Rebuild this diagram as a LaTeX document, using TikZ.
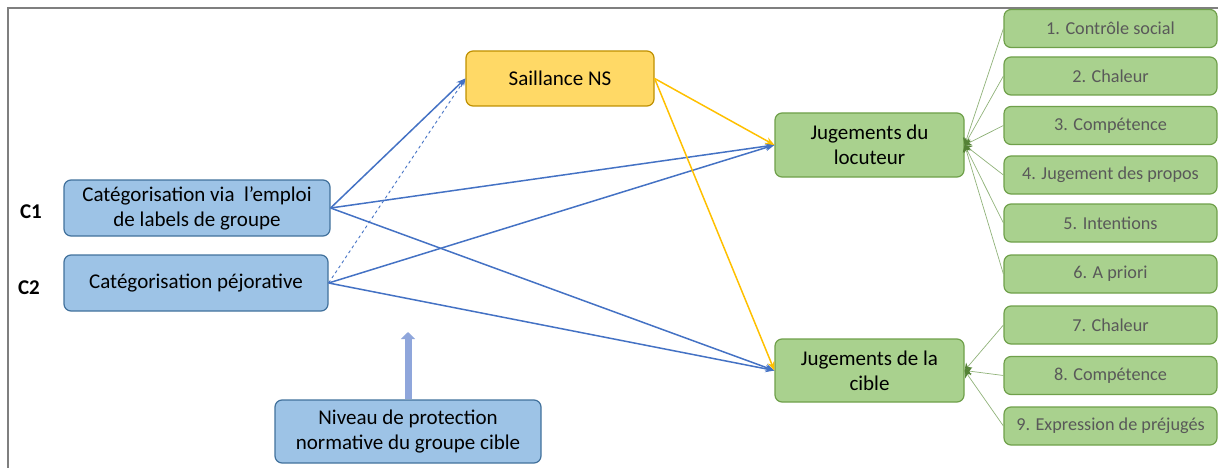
\documentclass[tikz,border=0pt]{standalone}
\usepackage{fontspec}
\setmainfont{Carlito}
\usepackage{tikz}
\usetikzlibrary{arrows.meta}
\definecolor{bluefill}{HTML}{9DC3E6}
\definecolor{blueline}{HTML}{41719C}
\definecolor{arrowblue}{HTML}{4472C4}
\definecolor{yellowfill}{HTML}{FFD966}
\definecolor{yellowline}{HTML}{BF9000}
\definecolor{arrowyellow}{HTML}{FFC000}
\definecolor{greenfill}{HTML}{A9D18E}
\definecolor{greenline}{HTML}{6FA04A}
\definecolor{darkgreen}{HTML}{548235}
\definecolor{subtext}{HTML}{595959}
\definecolor{framegray}{HTML}{7F7F7F}
\definecolor{thickblue}{HTML}{8FA6DB}
\tikzset{
    box/.style={rectangle, rounded corners=7pt, line width=1.2pt, align=center, inner sep=0pt, font=\fontsize{21}{25}\selectfont},
    bluebox/.style={box, fill=bluefill, draw=blueline},
    yellowbox/.style={box, fill=yellowfill, draw=yellowline},
    greenbox/.style={box, fill=greenfill, draw=greenline},
    subbox/.style={greenbox, minimum width=213pt, minimum height=38pt, text=subtext, font=\fontsize{18.2}{21}\selectfont},
    condlabel/.style={font=\fontsize{21}{24}\selectfont\bfseries},
    bluearrow/.style={draw=arrowblue, line width=1.5pt, -{Stealth[length=9pt, width=7pt]}},
    yellowarrow/.style={draw=arrowyellow, line width=1.5pt, -{Stealth[length=9pt, width=7pt]}},
    greenlink/.style={draw=greenfill!85!black, line width=0.7pt, -{Stealth[length=7pt, width=8pt, color=darkgreen]}}
}
\begin{document}
\begin{tikzpicture}[x=1pt, y=-1pt]
            \useasboundingbox (0,0) rectangle (1218,468);
            % frame
            \draw[framegray, line width=1.5pt] (8,468) -- (8,8) -- (1218,8);

            % conditions
            \node[bluebox, minimum width=266pt, minimum height=56pt] (cat1) at (197,208)
                {Catégorisation via~ l’emploi\\de labels de groupe};
            \node[bluebox, minimum width=264pt, minimum height=56pt] (cat2) at (196,283)
                {Catégorisation péjorative};
            \node[condlabel] (c1) at (31,212) {C1};
            \node[condlabel] (c2) at (29,288) {C2};

            % moderateur
            \node[bluebox, minimum width=266pt, minimum height=63pt] (niv) at (408,431.5)
                {Niveau de protection\\normative du groupe cible};
            \coordinate (nivtop) at (408,332);
            \draw[thickblue, line width=7pt, -{Triangle[length=7pt, width=14pt]}] (niv.north) -- (nivtop);

            % mediateur
            \node[yellowbox, minimum width=188pt, minimum height=55pt] (sal) at (560,78.5) {Saillance NS};

            % jugements
            \node[greenbox, minimum width=189pt, minimum height=64pt] (loc) at (869.5,145)
                {Jugements du\\locuteur};
            \node[greenbox, minimum width=189pt, minimum height=63pt] (cib) at (869.5,370.5)
                {Jugements de la\\cible};

            % mesures
            \foreach \i/\y/\txt in {1/28.5/1. Contrôle social, 2/76/2. Chaleur, 3/125.5/3. Compétence,
                    4/175/4. Jugement des propos, 5/223/5. Intentions, 6/274/6. A priori,
                    7/325/7. Chaleur, 8/375.5/8. Compétence, 9/426/9. Expression de préjugés}
                \node[subbox] (s\i) at (1110.5,\y) {\txt};
            \foreach \i in {1,...,6}
                \draw[greenlink] (s\i.west) -- (loc.east);
            \foreach \i in {7,8,9}
                \draw[greenlink] (s\i.west) -- (cib.east);

            % effets
            \draw[bluearrow] (cat1.east) -- (sal.west);
            \draw[draw=arrowblue, line width=0.9pt, dashed, -{Stealth[length=7pt, width=6pt]}] (cat2.east) -- (sal.west);
            \foreach \c in {cat1, cat2} {
                \draw[bluearrow] (\c.east) -- (loc.west);
                \draw[bluearrow] (\c.east) -- (cib.west);
            }
            \draw[yellowarrow] (sal.east) -- (loc.west);
            \draw[yellowarrow] (sal.east) -- (cib.west);
        \end{tikzpicture}
\end{document}
